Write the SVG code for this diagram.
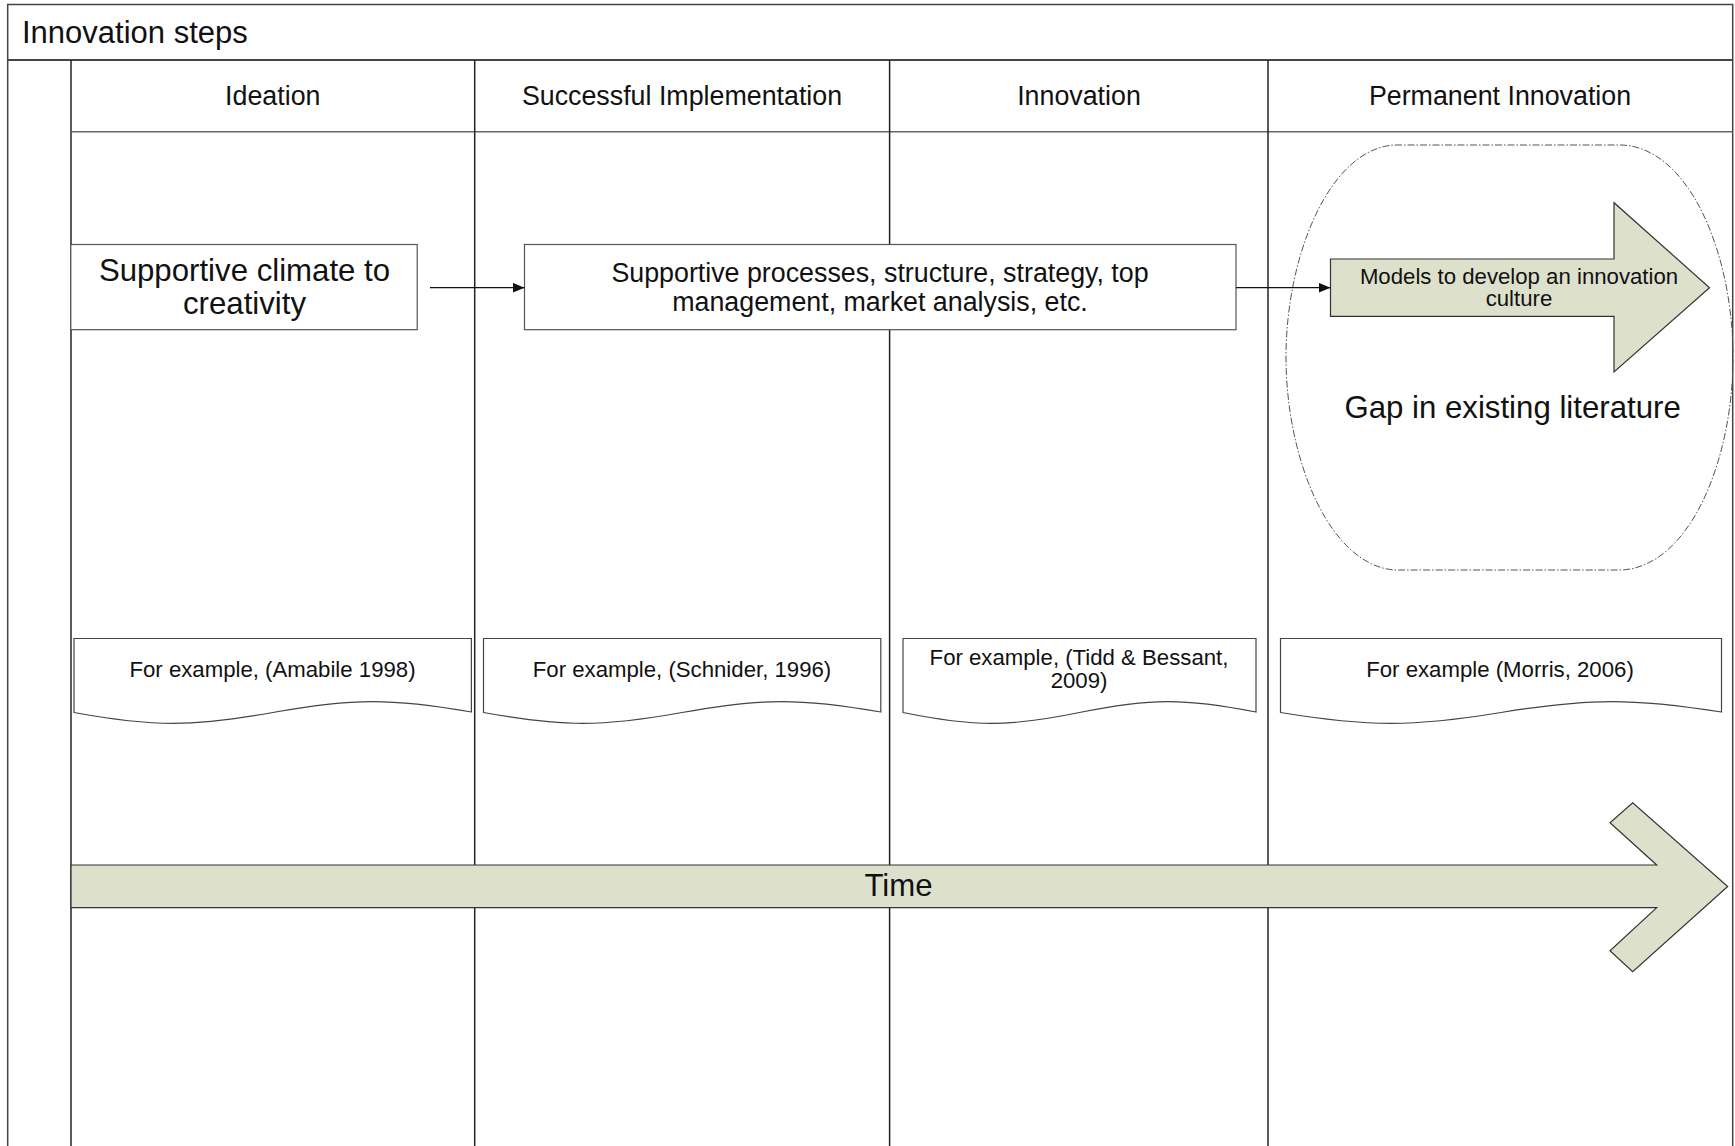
<svg xmlns="http://www.w3.org/2000/svg" width="1735" height="1146" viewBox="0 0 1735 1146">
  <style>
    text { font-family: "Liberation Sans", Arial, sans-serif; fill: #111; }
    .frame { fill: none; stroke: #444; stroke-width: 1.5; }
    .lane { stroke: #222; stroke-width: 1.5; fill: none; }
    .box { fill: #fff; stroke: #555; stroke-width: 1.2; }
    .doc { fill: #fff; stroke: #444; stroke-width: 1.2; }
    .block { fill: #dde1cb; stroke: #333; stroke-width: 1.2; }
    .conn { stroke: #111; stroke-width: 1.2; fill: none; }
    .dashed { fill: none; stroke: #555; stroke-width: 1; stroke-dasharray: 7 2 1.5 2; }
    .hdr { font-size: 26.8px; text-anchor: middle; }
    .big { font-size: 31.2px; text-anchor: middle; }
    .mid { font-size: 26.8px; text-anchor: middle; }
    .small { font-size: 22.2px; text-anchor: middle; }
    .ref { font-size: 22.2px; text-anchor: middle; }
  </style>
  <defs>
    <marker id="arrow" viewBox="0 0 12 10" refX="12" refY="5" markerWidth="12" markerHeight="10" markerUnits="userSpaceOnUse" orient="auto">
      <path d="M0,0 L12,5 L0,10 Z" fill="#111"/>
    </marker>
  </defs>

  <rect width="1735" height="1146" fill="#fff"/>

  <!-- pool frame, title band and lanes -->
  <g id="pool">
    <rect class="frame" x="7.7" y="4.5" width="1725" height="1160"/>
    <line x1="7.7" y1="60" x2="1732.7" y2="60" stroke="#444" stroke-width="2.2"/>
    <text x="22" y="42.5" font-size="31px">Innovation steps</text>
    <line class="lane" x1="71" y1="60" x2="71" y2="1160"/>
    <line x1="71" y1="131.7" x2="1732.7" y2="131.7" stroke="#666" stroke-width="1.5"/>
    <line class="lane" x1="474.7" y1="60" x2="474.7" y2="1160"/>
    <line class="lane" x1="889.6" y1="60" x2="889.6" y2="1160"/>
    <line class="lane" x1="1268" y1="60" x2="1268" y2="1160"/>
  </g>

  <g id="lane-headers">
    <text class="hdr" x="272.8" y="104.5">Ideation</text>
    <text class="hdr" x="682" y="104.5">Successful Implementation</text>
    <text class="hdr" x="1079" y="104.5">Innovation</text>
    <text class="hdr" x="1500" y="104.5">Permanent Innovation</text>
  </g>

  <!-- dashed region around the last step -->
  <g id="gap-region">
    <path class="dashed" d="M1395,145 L1622,145 C1690,148 1733,255 1733,357 C1733,460 1690,566 1622,570 L1395,570 C1330,566 1286,460 1286,357 C1286,255 1330,148 1395,145 Z"/>
    <text class="big" x="1512.6" y="418">Gap in existing literature</text>
  </g>

  <g id="climate">
    <rect class="box" x="70.8" y="244.5" width="346.4" height="85.2"/>
    <text class="big" x="244.5" y="281">Supportive climate to</text>
    <text class="big" x="244.5" y="314">creativity</text>
  </g>

  <g id="processes">
    <rect class="box" x="524.5" y="244.5" width="711.5" height="85.2"/>
    <text class="mid" x="880" y="281.5">Supportive processes, structure, strategy, top</text>
    <text class="mid" x="880" y="310.5">management, market analysis, etc.</text>
  </g>

  <g id="models">
    <path class="block" d="M1330.5,259 L1614,259 L1614,202.7 L1709.5,287.7 L1614,372 L1614,316.3 L1330.5,316.3 Z"/>
    <text class="small" x="1519" y="283.5">Models to develop an innovation</text>
    <text class="small" x="1519" y="305.5">culture</text>
  </g>

  <!-- reference notes with wavy bottom edge -->
  <g id="ref-amabile">
    <path class="doc" d="M74,638.5 H471.4 V712 C392,698 352,698 272.7,712.5 S153,727 74,712.5 Z"/>
    <text class="ref" x="272.5" y="677">For example, (Amabile 1998)</text>
  </g>
  <g id="ref-schnider">
    <path class="doc" d="M483.5,638.5 H880.8 V712 C801,698 762,698 682,712.5 S563,727 483.5,712.5 Z"/>
    <text class="ref" x="682" y="677">For example, (Schnider, 1996)</text>
  </g>
  <g id="ref-tidd">
    <path class="doc" d="M903,638.5 H1256 V712 C1185,698 1150,698 1079.5,712.5 S974,727 903,712.5 Z"/>
    <text class="ref" x="1079" y="665">For example, (Tidd &amp; Bessant,</text>
    <text class="ref" x="1079" y="688">2009)</text>
  </g>
  <g id="ref-morris">
    <path class="doc" d="M1280.5,638.5 H1721.5 V712 C1633,698 1589,698 1501,712.5 S1369,727 1280.5,712.5 Z"/>
    <text class="ref" x="1500" y="677">For example (Morris, 2006)</text>
  </g>

  <g id="time">
    <path class="block" d="M71,865 L1656.7,865 L1610,822.7 L1632.7,802.7 L1727.7,886.5 L1632.7,971.7 L1610,950.7 L1656.7,907.7 L71,907.7 Z"/>
    <text class="big" x="898.5" y="896">Time</text>
  </g>

  <g id="connectors">
    <line class="conn" x1="430" y1="287.7" x2="524.5" y2="287.7" marker-end="url(#arrow)"/>
    <line class="conn" x1="1236" y1="287.7" x2="1330.5" y2="287.7" marker-end="url(#arrow)"/>
  </g>
</svg>
